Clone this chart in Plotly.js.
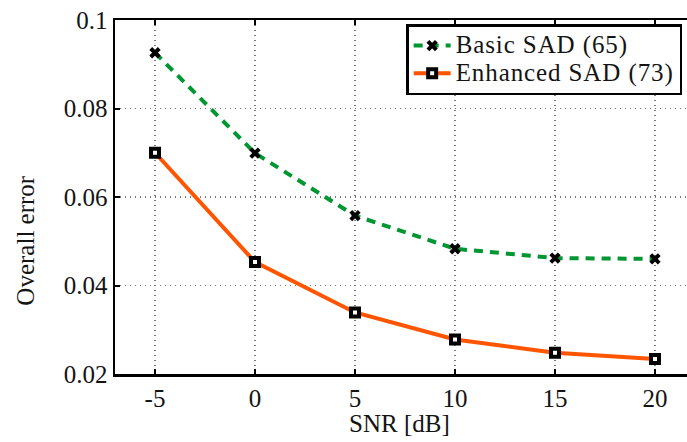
<!DOCTYPE html>
<html><head><meta charset="utf-8">
<script src="https://cdn.plot.ly/plotly-3.0.1.min.js"></script>
<style>html,body{margin:0;padding:0;overflow:hidden;background:#fff;width:687px;height:442px}</style>
</head><body><div id="chart" style="width:700px;height:442px"></div>
<script>
const snr = [-5, 0, 5, 10, 15, 20];
const basicSAD = [0.0926, 0.0699, 0.0558, 0.0483, 0.0462, 0.0460];
const enhancedSAD = [0.0700, 0.0453, 0.0339, 0.0278, 0.0248, 0.0234];
const xTicks = [-5, 0, 5, 10, 15, 20];
const yTicks = [0.02, 0.04, 0.06, 0.08, 0.1];
const yTickText = ['0.02', '0.04', '0.06', '0.08', '0.1'];
const seriesNames = ['Basic SAD (65)', 'Enhanced SAD (73)'];

const F = 'Liberation Serif';
const TC = 'rgb(20,20,20)';
const FS = 25;
const big = s => '<span style="font-size:25px;letter-spacing:0.9px">' + s + '</span>';
const traces = [
  {x: snr, y: basicSAD, name: big(seriesNames[0]), mode: 'lines+markers',
   line: {color: 'rgb(0,150,50)', width: 4, dash: '9px,7px'},
   marker: {symbol: 'x-thin', size: 8.5, color: 'black', line: {color: 'black', width: 4}}},
  {x: snr, y: enhancedSAD, name: big(seriesNames[1]), mode: 'lines+markers',
   line: {color: 'rgb(255,85,0)', width: 4},
   marker: {symbol: 'square', size: 8, color: 'white', line: {color: 'black', width: 4}}}
];
const axisCommon = {showline: true, linecolor: 'black', linewidth: 2.5, mirror: 'ticks',
  ticks: 'inside', ticklen: 5, tickwidth: 2, tickcolor: 'black',
  showgrid: true, gridcolor: 'rgb(120,120,120)', griddash: '1px,4px', gridwidth: 1.2,
  zeroline: false, tickfont: {family: F, size: FS, color: TC}};
const layout = {
  width: 700, height: 442,
  font: {family: F, size: FS, color: TC},
  margin: {l: 115, r: 5, t: 20, b: 67.5},
  paper_bgcolor: 'white', plot_bgcolor: 'white',
  showlegend: true,
  xaxis: Object.assign({}, axisCommon, {range: [-7, 22], tickvals: xTicks, ticktext: xTicks.map(String)}),
  yaxis: Object.assign({}, axisCommon, {range: [0.02, 0.1], tickvals: yTicks, ticktext: yTickText}),
  legend: {x: 0.502, y: 0.988, xanchor: 'left', yanchor: 'top', bgcolor: 'white',
    bordercolor: 'black', borderwidth: 2.5, font: {family: F, size: 19, color: TC},
    tracegroupgap: 0, itemwidth: 37},
  annotations: [
    {text: 'Overall error', xref: 'paper', yref: 'paper', x: -0.155, y: 0.377, textangle: -90,
     showarrow: false, font: {family: F, size: FS, color: TC}, xanchor: 'center', yanchor: 'middle'},
    {text: 'SNR [dB]', xref: 'paper', yref: 'paper', x: 0.491, y: -0.14,
     showarrow: false, font: {family: F, size: FS, color: TC}, xanchor: 'center', yanchor: 'middle'}
  ]
};
Plotly.newPlot('chart', traces, layout, {displayModeBar: false, staticPlot: true});
</script></body></html>
